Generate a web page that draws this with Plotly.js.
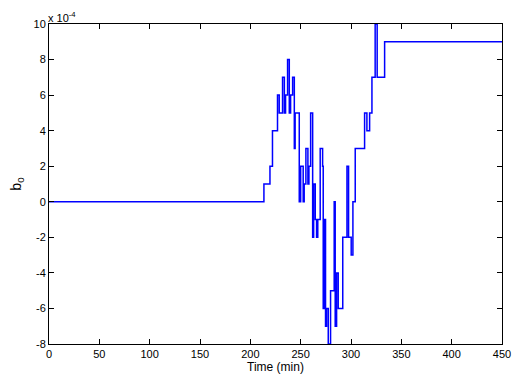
<!DOCTYPE html>
<html>
<head>
<meta charset="utf-8">
<script src="https://cdn.plot.ly/plotly-3.0.1.min.js"></script>
<style>html,body{margin:0;padding:0;background:#fff;}#chart{width:513px;height:378px;}</style>
</head>
<body>
<div id="chart"></div>
<script>
// Time (min) at which each step begins
const timeMin = [0, 213.5, 219.5, 222, 227, 228.7, 232, 233.8, 235, 237, 238.7, 240, 242, 243.7, 244.5,
  248.6, 250, 252.5, 253.5, 255.2, 257.2, 258.2, 259.9, 261.9, 262.9, 264.5, 265.8, 267, 269.4, 271.8,
  272.4, 273.4, 274.7, 275.7, 277.4, 279.7, 283.3, 284.3, 285.7, 287.3, 291.8, 296, 297.6, 300.2, 301.9,
  304.2, 313.5, 315.8, 318.5, 320.8, 324, 326, 333.4, 450];
// b0 values, in units of 1e-4
const b0 = [0, 1, 2, 4, 6, 5, 7, 5, 6, 8, 5, 6, 7, 3, 5,
  0, 2, 0, 1, 3, 1, 2, 5, -2, 1, -1, -2, -1, 3, 2,
  -6, -1, -7, -6, -8, -5, 0, -7, -4, -6, -2, 2, -2, -3, 0,
  3, 5, 4, 5, 7, 10, 7, 9, 9];
const xTicks = [0, 50, 100, 150, 200, 250, 300, 350, 400, 450];
const yTicks = [-8, -6, -4, -2, 0, 2, 4, 6, 8, 10];

const fontFam = '"Liberation Sans", Arial, sans-serif';
const trace = {
  x: timeMin, y: b0, type: 'scatter', mode: 'lines',
  line: {color: '#0000ff', width: 1.5, shape: 'hv'},
  hoverinfo: 'skip'
};
const axisCommon = {
  showgrid: false, zeroline: false, showline: true, linecolor: '#000', linewidth: 1,
  mirror: 'ticks', ticks: 'inside', ticklen: 5, tickcolor: '#000', tickwidth: 1,
  tickfont: {family: fontFam, size: 11, color: '#000'}
};
const layout = {
  width: 513, height: 378,
  margin: {l: 49, r: 11, t: 24, b: 34},
  paper_bgcolor: '#fff', plot_bgcolor: '#fff',
  showlegend: false,
  xaxis: Object.assign({}, axisCommon, {
    range: [0, 450], tickvals: xTicks, ticktext: xTicks.map(String),
    title: {text: 'Time (min)', font: {family: fontFam, size: 12, color: '#000'}, standoff: 1}
  }),
  yaxis: Object.assign({}, axisCommon, {
    range: [-8, 10], tickvals: yTicks, ticktext: yTicks.map(String),
    title: {text: 'b<sub>0</sub>', font: {family: fontFam, size: 14, color: '#000'}, standoff: 8}
  }),
  annotations: [{
    xref: 'paper', yref: 'paper', x: 0, y: 1, xanchor: 'left', yanchor: 'bottom',
    text: 'x 10<sup>-4</sup>', showarrow: false, yshift: -2, xshift: -3,
    font: {family: fontFam, size: 11, color: '#000'}
  }]
};
Plotly.newPlot('chart', [trace], layout, {displayModeBar: false, staticPlot: true});
</script>
</body>
</html>
